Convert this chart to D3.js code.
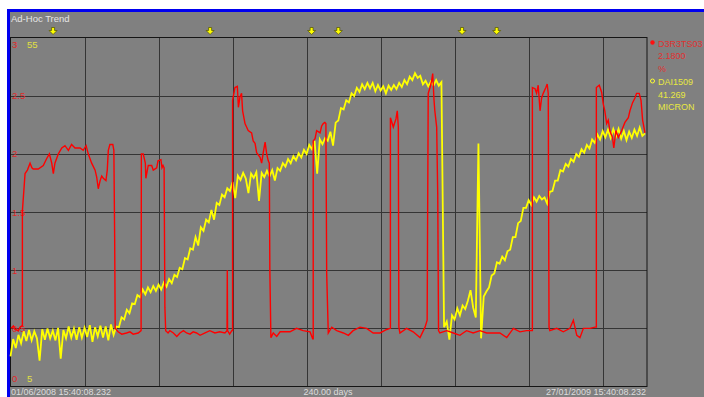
<!DOCTYPE html>
<html><head><meta charset="utf-8">
<script src="https://cdn.jsdelivr.net/npm/d3@7"></script>
<style>body{margin:0;background:#fff}svg{display:block}text{font-family:"Liberation Sans",Arial,sans-serif}</style>
</head><body>
<script>
// ---- data ----
const totalDays = 240;
const gridDays = [28, 56, 84, 112, 140, 168, 196, 224];
const redTicks = [0, 0.5, 1, 1.5, 2, 2.5, 3];
const redTickLabels = ["0", "0.5", "1", "1.5", "2", "2.5", "3"];
const yellowTickLabels = ["5", "55"];
const eventDays = [16.1, 75.5, 113.9, 124.0, 170.8, 183.9];
const startLabel = "01/06/2008 15:40:08.232";
const spanLabel = "240.00 days";
const endLabel = "27/01/2009 15:40:08.232";
const redName = "D3R3TS03", redValue = "2.1800", redUnit = "%";
const yelName = "DAI1509", yelValue = "41.269", yelUnit = "MICRON";

const redDays = [0.2,1.1,1.7,3.0,3.6,4.2,4.5,4.5,5.1,5.5,6.4,7.4,8.1,8.6,10.5,12.4,13.7,14.7,15.6,16.2,16.8,18.1,19.4,20.6,21.9,23.1,24.4,26.3,27.5,28.6,29.4,30.7,32.0,32.6,33.2,33.9,34.5,35.1,36.1,36.6,37.0,37.6,38.7,39.1,39.4,39.6,40.7,42.1,43.9,45.2,46.4,48.3,49.4,49.5,50.2,51.0,51.2,52.1,53.4,54.0,55.3,55.8,56.9,57.3,57.7,58.1,58.4,58.7,59.6,60.3,61.6,62.9,64.1,65.4,66.6,67.9,69.1,70.4,71.7,73.6,75.4,77.3,79.2,81.1,81.9,82.0,82.1,82.9,83.7,84.0,84.0,84.9,85.8,86.2,86.8,87.4,87.8,88.7,89.3,89.9,91.2,91.8,92.5,93.1,94.4,95.0,95.6,96.3,96.9,97.5,97.9,98.1,98.5,99.4,100.7,102.0,105.7,108.2,110.7,113.3,114.3,114.5,114.5,115.2,115.8,117.1,117.7,118.3,118.9,119.3,119.6,120.2,121.5,123.4,125.9,127.8,129.6,132.2,134.7,137.2,139.8,142.3,143.5,143.7,143.7,144.8,145.8,146.3,146.7,146.9,147.3,149.8,152.3,154.9,156.8,157.6,158.0,158.7,159.3,159.7,160.2,160.5,161.2,161.6,161.9,162.4,165.0,167.5,170.0,171.2,172.5,175.0,177.6,180.1,182.6,185.1,187.7,190.2,192.7,195.2,197.1,197.4,197.4,198.4,199.0,199.6,200.3,200.9,201.5,202.5,203.0,203.4,203.7,204.0,206.6,209.1,211.6,212.9,213.5,214.2,215.4,216.7,219.2,221.1,221.6,221.6,222.7,223.6,224.2,224.8,225.5,226.1,226.7,227.7,228.2,229.0,229.9,231.2,232.4,233.7,234.3,235.3,236.2,236.8,237.8,238.5,239.1,240.0];
const redVals = [0.50,0.52,0.49,0.48,0.51,0.52,0.52,1.51,1.70,1.83,1.86,1.92,1.88,1.87,1.87,1.90,1.96,2.00,1.92,1.83,1.92,2.00,2.05,2.07,2.03,2.08,2.05,2.05,2.03,2.07,2.00,1.92,1.86,1.80,1.70,1.77,1.81,1.79,1.77,1.86,2.03,2.08,2.08,2.03,1.28,0.50,0.47,0.45,0.46,0.47,0.45,0.46,0.48,2.00,2.00,1.92,1.79,1.90,1.90,1.86,1.88,1.94,1.95,1.88,1.90,1.88,0.68,0.48,0.46,0.48,0.46,0.43,0.46,0.48,0.46,0.45,0.47,0.46,0.44,0.46,0.48,0.46,0.47,0.46,0.48,1.00,0.48,0.45,0.48,0.48,2.46,2.57,2.58,2.40,2.49,2.52,2.37,2.26,2.23,2.20,2.18,2.11,2.09,2.01,1.97,1.92,2.01,2.10,2.00,1.94,1.92,1.00,0.42,0.46,0.43,0.47,0.47,0.50,0.48,0.47,0.41,0.41,2.11,2.13,2.20,2.18,2.24,2.26,2.27,2.26,0.97,0.46,0.51,0.48,0.46,0.44,0.48,0.51,0.50,0.46,0.46,0.49,0.50,0.50,2.31,2.23,2.30,2.37,2.23,0.51,0.46,0.50,0.47,0.42,0.51,0.57,2.52,2.57,2.63,2.69,2.46,2.37,2.23,1.66,0.48,0.46,0.48,0.46,0.44,0.46,0.48,0.46,0.48,0.46,0.46,0.46,0.42,0.50,0.47,0.48,0.48,0.48,2.57,2.56,2.52,2.59,2.37,2.48,2.52,2.57,2.60,2.52,0.51,0.48,0.50,0.47,0.50,0.57,0.51,0.44,0.42,0.50,0.50,0.51,0.51,2.57,2.59,2.53,2.43,2.37,2.26,2.29,2.20,2.14,2.05,2.20,2.14,2.20,2.27,2.31,2.37,2.44,2.48,2.52,2.52,2.46,2.29,2.18];

// yellow series: one reading per day, day 0..240
const yellowVals = [
9.3,11.8,10.5,12.4,11.2,12.9,11.5,13.1,11.6,12.9,11.9,8.7,13.2,11.7,13.3,11.9,13.0,11.6,13.4,9.0,
13.1,11.9,13.6,12.0,13.3,11.7,13.5,12.0,13.4,12.1,13.8,11.4,13.5,12.2,13.7,12.0,13.6,11.6,13.9,12.4,
13.6,13.5,14.9,14.6,16.0,15.5,16.9,16.8,18.1,17.8,18.9,18.2,19.2,18.5,19.4,18.7,19.6,18.9,19.9,19.3,
20.4,19.8,21.0,20.7,22.0,21.8,23.4,23.2,24.8,24.6,26.4,25.2,27.8,27.3,28.9,28.5,30.3,28.9,31.3,31.0,
32.5,32.1,33.4,33.0,34.3,32.0,35.2,34.6,35.6,34.8,32.7,35.5,34.9,35.7,31.6,35.6,35.0,35.9,35.1,36.0,
34.5,36.3,35.9,37.0,36.5,37.6,37.0,38.0,37.4,38.4,37.8,38.9,38.3,39.6,39.0,40.2,35.5,40.4,39.7,40.6,
40.2,41.5,39.5,42.8,43.1,44.9,44.7,46.0,45.7,47.0,46.6,47.8,47.2,48.3,47.6,48.5,47.7,48.5,47.3,48.2,
47.4,48.0,47.0,48.1,47.5,48.2,47.6,48.5,47.9,48.9,48.3,49.4,48.9,49.9,49.2,49.5,48.3,48.8,48.0,48.7,
48.1,48.9,48.1,48.6,13.5,14.3,11.7,15.2,14.6,16.2,15.2,16.6,16.1,17.3,18.8,16.3,14.9,39.8,11.9,17.9,
18.6,19.2,20.9,21.2,22.8,22.6,23.6,23.1,24.4,24.6,26.4,26.4,28.4,28.7,30.6,30.6,31.7,31.0,32.1,31.5,
32.3,31.8,32.1,31.2,32.9,33.0,34.5,34.5,36.0,35.8,36.9,36.5,37.6,37.2,38.3,37.9,39.0,38.5,39.6,39.1,
40.4,39.9,41.1,40.4,41.6,40.7,41.8,40.6,41.9,40.8,41.9,40.5,41.6,40.3,41.5,40.6,41.8,40.9,42.1,40.9,
41.27];

// ---- drawing ----
const W = 704, H = 397;
const svg = d3.select("body").append("svg").attr("width", W).attr("height", H);
svg.append("rect").attr("x", 0).attr("y", 0).attr("width", W).attr("height", H).attr("fill", "#ffffff");
svg.append("rect").attr("x", 7).attr("y", 9).attr("width", W - 7).attr("height", H - 9).attr("fill", "#0000f0");
svg.append("rect").attr("x", 10).attr("y", 12).attr("width", W - 10).attr("height", H - 12).attr("fill", "#808080");

const x = d3.scaleLinear().domain([0, totalDays]).range([10.5, 645]);
const yR = d3.scaleLinear().domain([0, 3]).range([386.5, 37.5]);
const yY = d3.scaleLinear().domain([5, 55]).range([386.5, 37.5]);
const plotRight = 647;

svg.append("text").attr("x", 11).attr("y", 22).attr("font-size", 9.5).attr("fill", "#e6e6e6").text("Ad-Hoc Trend");

// grid
const g = svg.append("g");
g.selectAll("line.v").data(gridDays).join("line")
  .attr("x1", d => Math.round(x(d)) + 0.5).attr("x2", d => Math.round(x(d)) + 0.5)
  .attr("y1", yR(3)).attr("y2", yR(0)).attr("stroke", "#353535").attr("stroke-width", 1);
g.selectAll("line.h").data(redTicks.slice(1, -1)).join("line")
  .attr("x1", x(0)).attr("x2", plotRight)
  .attr("y1", d => Math.round(yR(d)) + 0.5).attr("y2", d => Math.round(yR(d)) + 0.5)
  .attr("stroke", "#353535").attr("stroke-width", 1);
g.append("rect").attr("x", x(0)).attr("y", yR(3)).attr("width", plotRight - x(0)).attr("height", yR(0) - yR(3))
  .attr("fill", "none").attr("stroke", "#151515").attr("stroke-width", 1);

// axis labels (inside)
svg.append("g").selectAll("text").data(redTicks).join("text")
  .attr("x", 12).attr("font-size", 9.5).attr("fill", "#e02828")
  .attr("y", (d, i) => i === redTicks.length - 1 ? yR(d) + 10 : (i === 0 ? yR(d) - 5 : yR(d) + 3.5))
  .text((d, i) => redTickLabels[i]);
svg.append("text").attr("x", 27).attr("y", yY(5) - 5).attr("font-size", 9.5).attr("fill", "#e0e040").text(yellowTickLabels[0]);
svg.append("text").attr("x", 27).attr("y", yY(55) + 10).attr("font-size", 9.5).attr("fill", "#e0e040").text(yellowTickLabels[1]);

// series
const yelLine = d3.line().x((d, i) => x(i)).y(d => yY(d));
svg.append("path").attr("d", yelLine(yellowVals)).attr("fill", "none").attr("stroke", "#ffff00").attr("stroke-width", 1.8).attr("stroke-linejoin", "miter");
const redLine = d3.line().x(d => x(redDays[d])).y(d => yR(redVals[d]));
svg.append("path").attr("d", redLine(d3.range(redDays.length))).attr("fill", "none").attr("stroke", "#ff0000").attr("stroke-width", 1.4);

// event markers
svg.append("g").selectAll("path").data(eventDays).join("path")
  .attr("transform", d => `translate(${x(d)},31)`)
  .attr("d", "M-1.5,-3.5h3v3h2.5l-4,4l-4,-4h2.5z")
  .attr("fill", "#ffff00").attr("stroke", "#505000").attr("stroke-width", 0.7);

// bottom labels
svg.append("text").attr("x", 11).attr("y", 395).attr("font-size", 9).attr("fill", "#dcdcdc").text(startLabel);
svg.append("text").attr("x", 328).attr("y", 395).attr("font-size", 9).attr("fill", "#dcdcdc").attr("text-anchor", "middle").text(spanLabel);
svg.append("text").attr("x", 646).attr("y", 395).attr("font-size", 9).attr("fill", "#dcdcdc").attr("text-anchor", "end").text(endLabel);

// legend
const lx = 658;
svg.append("circle").attr("cx", 652.5).attr("cy", 42.5).attr("r", 2.2).attr("fill", "#ff1010");
[[redName, 46.5], [redValue, 59], [redUnit, 71.5]].forEach(([t, yy]) =>
  svg.append("text").attr("x", lx).attr("y", yy).attr("font-size", 9).attr("fill", "#e03030").text(t));
svg.append("circle").attr("cx", 652.5).attr("cy", 81).attr("r", 2).attr("fill", "none").attr("stroke", "#ffff30").attr("stroke-width", 1);
[[yelName, 85], [yelValue, 97.5], [yelUnit, 110]].forEach(([t, yy]) =>
  svg.append("text").attr("x", lx).attr("y", yy).attr("font-size", 9).attr("fill", "#e8e840").text(t));
</script>
</body></html>
